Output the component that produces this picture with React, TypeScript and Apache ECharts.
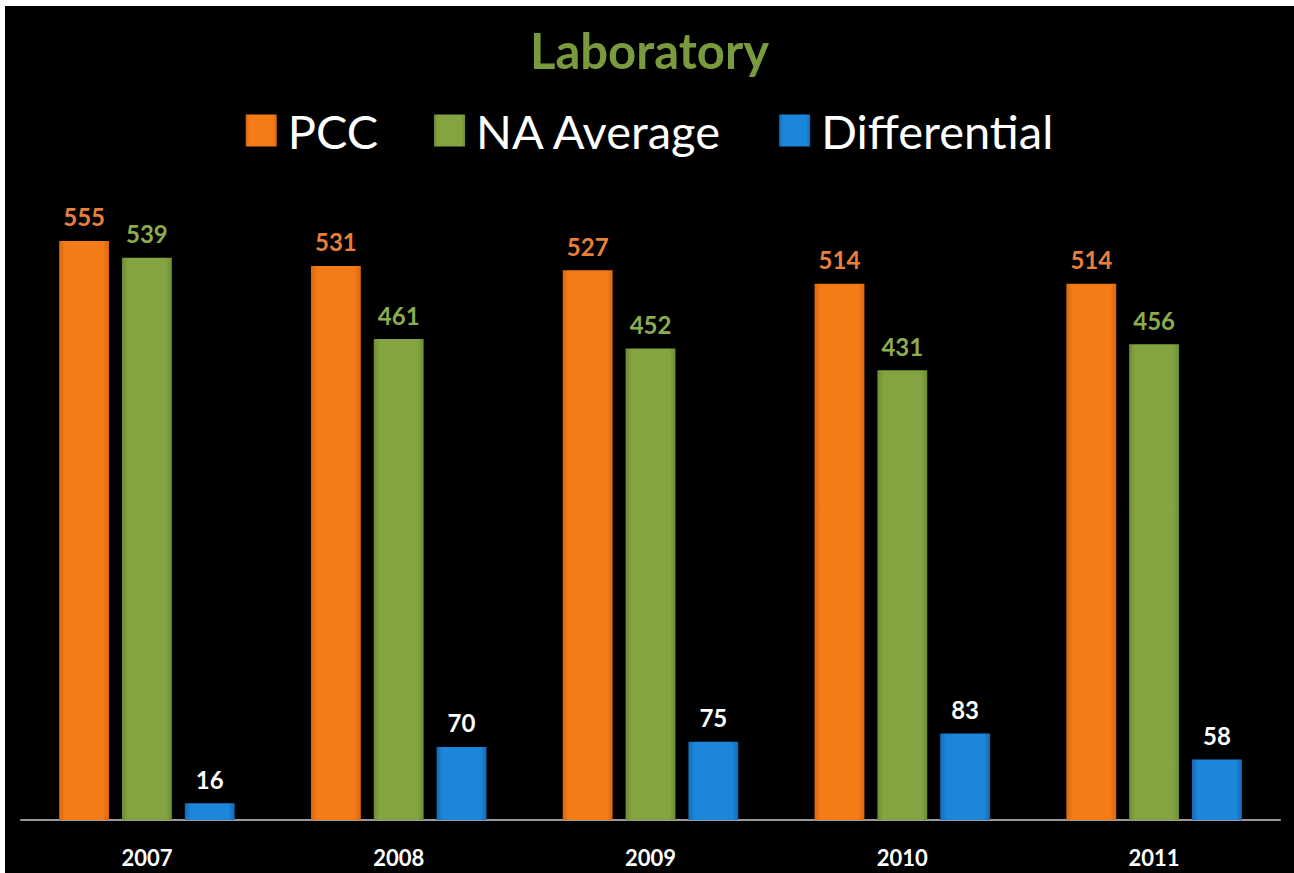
import React, { useEffect, useRef } from "react";
import * as echarts from "echarts";

const categories = ["2007", "2008", "2009", "2010", "2011"];
const pccValues = [555, 531, 527, 514, 514];
const naAverageValues = [539, 461, 452, 431, 456];
const differentialValues = [16, 70, 75, 83, 58];
const seriesNames = ["PCC", "NA Average", "Differential"];

const FONT = "Lato, 'Open Sans', sans-serif";

function barGradient(mid: string, edge: string) {
  return new echarts.graphic.LinearGradient(0, 0, 1, 0, [
    { offset: 0, color: edge },
    { offset: 0.12, color: mid },
    { offset: 0.88, color: mid },
    { offset: 1, color: edge },
  ]);
}

export default function App() {
  const ref = useRef<HTMLDivElement>(null);
  useEffect(() => {
    document.body.style.margin = "0";
    document.body.style.background = "#ffffff";
    const chart = echarts.init(ref.current!, null, { renderer: "svg" });
    const labelBase = {
      show: true,
      position: "top" as const,
      distance: 12,
      fontFamily: FONT,
      fontWeight: "bold" as const,
      fontSize: 24,
    };
    chart.setOption({
      animation: false,
      backgroundColor: "#000000",
      title: {
        text: "Laboratory",
        left: "center",
        top: 14,
        textStyle: { color: "#7A9A3E", fontFamily: FONT, fontWeight: "bold", fontSize: 49 },
      },
      legend: {
        data: seriesNames,
        top: 96,
        left: "center",
        icon: "rect",
        itemWidth: 31,
        itemHeight: 32,
        itemGap: 56,
        textStyle: { color: "#ffffff", fontFamily: FONT, fontSize: 47, padding: [0, 0, 0, 6] },
      },
      grid: { left: 16, right: 14, top: 188, bottom: 53 },
      xAxis: {
        type: "category",
        data: categories,
        axisLine: { lineStyle: { color: "#9a9a9a", width: 2 } },
        axisTick: { show: false },
        axisLabel: { color: "#ffffff", fontFamily: FONT, fontWeight: "bold", fontSize: 22, margin: 26 },
      },
      yAxis: { type: "value", min: 0, max: 600, show: false, splitLine: { show: false } },
      series: [
        {
          name: seriesNames[0],
          type: "bar",
          data: pccValues,
          barWidth: "19.8%",
          barGap: "26%",
          itemStyle: { color: barGradient("#F47B16", "#D9680E") },
          label: { ...labelBase, color: "#E8803C" },
        },
        {
          name: seriesNames[1],
          type: "bar",
          data: naAverageValues,
          barWidth: "19.8%",
          barGap: "26%",
          itemStyle: { color: barGradient("#83A440", "#6E8D33") },
          label: { ...labelBase, color: "#8CAC4E" },
        },
        {
          name: seriesNames[2],
          type: "bar",
          data: differentialValues,
          barWidth: "19.8%",
          barGap: "26%",
          itemStyle: { color: barGradient("#1B86DA", "#1569B5") },
          label: { ...labelBase, color: "#ffffff" },
        },
      ],
      color: ["#F47B16", "#83A440", "#1B86DA"],
    });
    return () => chart.dispose();
  }, []);
  return (
    <div style={{ width: 1294, height: 873, background: "#ffffff", position: "relative" }}>
      <div ref={ref} style={{ position: "absolute", left: 5, top: 6, width: 1289, height: 867 }} />
    </div>
  );
}
